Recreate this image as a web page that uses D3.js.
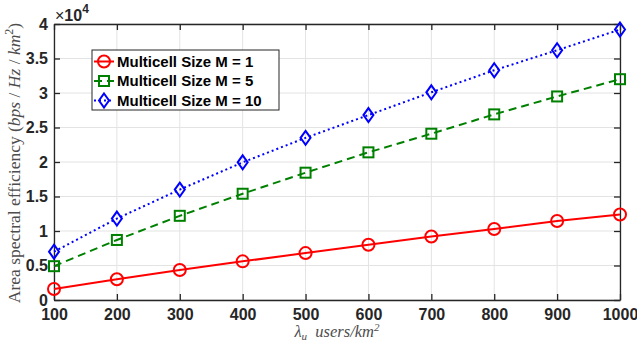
<!DOCTYPE html>
<html>
<head>
<meta charset="utf-8">
<script src="https://d3js.org/d3.v7.min.js"></script>
<style>
  body { margin: 0; background: #fff; }
</style>
</head>
<body>
<div id="chart"></div>
<script>
// Users per km^2 on the x axis
var userDensity = [100, 200, 300, 400, 500, 600, 700, 800, 900, 1000];

// Area spectral efficiency, bps/Hz/km^2
var sizeM1  = [1600, 3000, 4350, 5600, 6800, 8000, 9200, 10300, 11450, 12400];
var sizeM5  = [4900, 8700, 12200, 15400, 18450, 21400, 24100, 26900, 29500, 32000];
var sizeM10 = [7000, 11800, 16000, 19950, 23500, 26800, 30100, 33300, 36200, 39200];

var seriesNames = ["Multicell Size M = 1", "Multicell Size M = 5", "Multicell Size M = 10"];
var yTicks = [0, 5000, 10000, 15000, 20000, 25000, 30000, 35000, 40000];

var width = 637, height = 343;
var margin = {top: 24, right: 17, bottom: 43, left: 54};

var svg = d3.select("#chart")
  .append("svg")
  .attr("width", width)
  .attr("height", height);

var x = d3.scaleLinear()
  .domain([100, 1000])
  .range([margin.left, width - margin.right]);

var y = d3.scaleLinear()
  .domain([0, 40000])
  .range([height - margin.bottom, margin.top]);

var axisColor = "#262626";
var tickFont = "'Liberation Sans', Arial, sans-serif";

// grid first so everything else sits on top
svg.append("g")
  .selectAll("line")
  .data(userDensity)
  .join("line")
    .attr("x1", d => x(d)).attr("x2", d => x(d))
    .attr("y1", y(40000)).attr("y2", y(0))
    .attr("stroke", "#e3e3e3");

svg.append("g")
  .selectAll("line")
  .data(yTicks)
  .join("line")
    .attr("x1", x(100)).attr("x2", x(1000))
    .attr("y1", d => y(d)).attr("y2", d => y(d))
    .attr("stroke", "#e3e3e3");

// axes: ticks point inward, mirrored on top / right
var xAxis = g => g
  .attr("transform", `translate(0,${y(0)})`)
  .call(d3.axisBottom(x).tickValues(userDensity).tickSize(-6).tickPadding(9).tickSizeOuter(0)
    .tickFormat(d3.format("d")))
var xAxisTop = g => g
  .attr("transform", `translate(0,${y(40000)})`)
  .call(d3.axisTop(x).tickValues(userDensity).tickSize(-6).tickFormat("").tickSizeOuter(0))
var yAxis = g => g
  .attr("transform", `translate(${x(100)},0)`)
  .call(d3.axisLeft(y).tickValues(yTicks).tickSize(-6).tickPadding(6).tickSizeOuter(0)
    .tickFormat(d => d / 10000))
var yAxisRight = g => g
  .attr("transform", `translate(${x(1000)},0)`)
  .call(d3.axisRight(y).tickValues(yTicks).tickSize(-6).tickFormat("").tickSizeOuter(0))

;[xAxis, xAxisTop, yAxis, yAxisRight].forEach(function(a) {
  svg.append("g")
    .call(a)
    .call(g => g.selectAll("line, path").attr("stroke", axisColor).attr("stroke-width", 1.3))
    .call(g => g.selectAll("text")
      .attr("fill", axisColor)
      .attr("font-family", tickFont)
      .attr("font-weight", "bold")
      .attr("font-size", 16));
});

// multiplier above the y axis
svg.append("text")
  .attr("x", 55)
  .attr("y", 21)
  .attr("fill", axisColor)
  .attr("font-family", tickFont)
  .attr("font-size", 16)
  .call(t => t.append("tspan").attr("font-weight", "normal").text("\u00d7"))
  .call(t => t.append("tspan").attr("font-weight", "bold").text("10"))
  .call(t => t.append("tspan").attr("font-weight", "bold").attr("font-size", 12).attr("dy", -8).text("4"));

// series
var series = [
  {name: seriesNames[0], values: sizeM1,  color: "#ff0000", dash: null,  marker: "circle"},
  {name: seriesNames[1], values: sizeM5,  color: "#008000", dash: "8,5", marker: "square"},
  {name: seriesNames[2], values: sizeM10, color: "#0000ff", dash: "2,3", marker: "diamond"}
];

var line = d3.line()
  .x((d, i) => x(userDensity[i]))
  .y(d => y(d));

function drawMarker(g, kind, color) {
  if (kind == "circle") {
    g.append("circle").attr("r", 6);
  } else if (kind == "square") {
    g.append("rect").attr("x", -5).attr("y", -5).attr("width", 10).attr("height", 10);
  } else {
    g.append("path").attr("d", "M0,-7L5,0L0,7L-5,0Z");
  }
  g.selectAll("*")
    .attr("fill", "none")
    .attr("stroke", color)
    .attr("stroke-width", 2);
}

series.forEach(function(s) {
  svg.append("path")
    .datum(s.values)
    .attr("d", line)
    .attr("fill", "none")
    .attr("stroke", s.color)
    .attr("stroke-width", 2)
    .attr("stroke-dasharray", s.dash);

  svg.append("g")
    .selectAll("g")
    .data(s.values)
    .join("g")
      .attr("transform", (d, i) => `translate(${x(userDensity[i])},${y(d)})`)
      .each(function() { drawMarker(d3.select(this), s.marker, s.color); });
});

// legend box
var legend = svg.append("g").attr("transform", "translate(92,50)");
legend.append("rect")
  .attr("width", 187)
  .attr("height", 60)
  .attr("fill", "#fff")
  .attr("stroke", axisColor)
  .attr("stroke-width", 1);

var item = legend.selectAll("g")
  .data(series)
  .join("g")
    .attr("transform", (d, i) => `translate(0,${11.5 + i * 19.5})`);

item.append("line")
  .attr("x1", 2).attr("x2", 22)
  .attr("stroke", d => d.color)
  .attr("stroke-width", 2)
  .attr("stroke-dasharray", d => d.dash);
item.append("g")
  .attr("transform", "translate(12,0)")
  .each(function(d) { drawMarker(d3.select(this), d.marker, d.color); });
item.append("text")
  .attr("x", 25)
  .attr("dy", "0.36em")
  .attr("font-family", tickFont)
  .attr("font-weight", "bold")
  .attr("font-size", 15)
  .attr("fill", "#000")
  .text(d => d.name);

// axis titles, serif like the LaTeX original
var serif = "'Liberation Serif', 'DejaVu Serif', serif";
var labelColor = "#4d4d4d";

svg.append("text")
  .attr("transform", `translate(20,${(y(0) + y(40000)) / 2 + 1}) rotate(-90)`)
  .attr("text-anchor", "middle")
  .attr("font-family", serif)
  .attr("font-size", 17.5)
  .attr("fill", labelColor)
  .call(t => t.append("tspan").text("Area spectral efficiency ("))
  .call(t => t.append("tspan").attr("font-style", "italic").text("bps"))
  .call(t => t.append("tspan").text(" / "))
  .call(t => t.append("tspan").attr("font-style", "italic").text("Hz"))
  .call(t => t.append("tspan").text(" / "))
  .call(t => t.append("tspan").attr("font-style", "italic").text("km"))
  .call(t => t.append("tspan").attr("font-size", 12).attr("dy", -7).text("2"))
  .call(t => t.append("tspan").attr("dy", 7).text(")"));

svg.append("text")
  .attr("x", (x(100) + x(1000)) / 2)
  .attr("y", 337)
  .attr("text-anchor", "middle")
  .attr("font-family", serif)
  .attr("font-size", 16.5)
  .attr("font-style", "italic")
  .attr("fill", labelColor)
  .call(t => t.append("tspan").text("\u03bb"))
  .call(t => t.append("tspan").attr("font-size", 11).attr("dy", 3).text("u"))
  .call(t => t.append("tspan").attr("dy", -3).text("\u2002users/km"))
  .call(t => t.append("tspan").attr("font-size", 11).attr("dy", -6).text("2"));
</script>
</body>
</html>
